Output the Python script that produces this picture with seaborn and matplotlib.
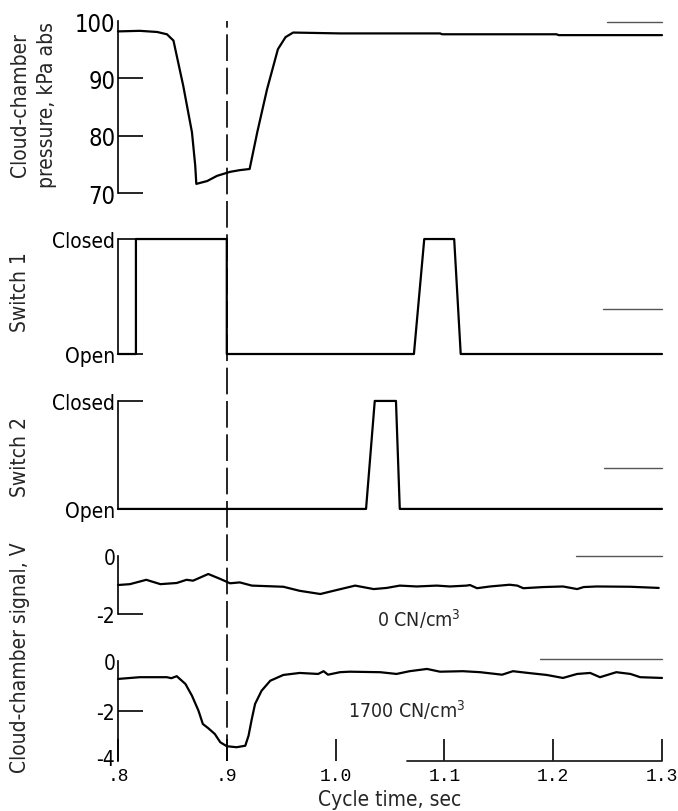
import matplotlib
matplotlib.use("Agg")
import matplotlib.pyplot as plt
import matplotlib.transforms as mtransforms
import seaborn as sns

# ---------------------------------------------------------------------------
# Data
# ---------------------------------------------------------------------------
X_MIN, X_MAX = 0.8, 1.3
X_TICKS = [0.8, 0.9, 1.0, 1.1, 1.2, 1.3]
X_TICK_LABELS = [".8", ".9", "1.0", "1.1", "1.2", "1.3"]
EVENT_TIME = 0.9

press_t = [0.800, 0.820, 0.836, 0.845, 0.851, 0.860, 0.868, 0.871, 0.872,
           0.882, 0.891, 0.903, 0.912, 0.921, 0.928, 0.937, 0.947, 0.954,
           0.961, 1.004, 1.096, 1.098, 1.203, 1.205, 1.300]
press_kpa = [98.2, 98.3, 98.1, 97.7, 96.6, 88.7, 80.6, 74.8, 71.6,
             72.1, 73.0, 73.7, 74.0, 74.2, 80.6, 88.1, 95.1, 97.2,
             98.0, 97.85, 97.85, 97.7, 97.7, 97.55, 97.55]

sw1_t = [0.800, 0.8165, 0.8165, 0.900, 0.900, 1.072, 1.0815, 1.109, 1.115, 1.300]
sw1_state = [0, 0, 1, 1, 0, 0, 1, 1, 0, 0]

sw2_t = [0.800, 1.028, 1.036, 1.0555, 1.059, 1.300]
sw2_state = [0, 0, 1, 1, 0, 0]

sig0_t = [0.800, 0.811, 0.826, 0.839, 0.854, 0.863, 0.869, 0.883, 0.894,
          0.903, 0.912, 0.923, 0.952, 0.967, 0.986, 0.998, 1.018, 1.035,
          1.047, 1.059, 1.0745, 1.093, 1.105, 1.1205, 1.1235, 1.130, 1.142,
          1.160, 1.167, 1.1725, 1.191, 1.209, 1.222, 1.228, 1.240, 1.271, 1.297]
sig0_v = [-1.00, -0.97, -0.82, -0.97, -0.93, -0.82, -0.85, -0.62, -0.79,
          -0.94, -0.91, -1.02, -1.06, -1.20, -1.31, -1.20, -1.02, -1.14,
          -1.10, -1.02, -1.05, -1.02, -1.05, -1.02, -1.00, -1.11, -1.05,
          -0.99, -1.02, -1.11, -1.07, -1.05, -1.14, -1.07, -1.05, -1.06, -1.10]

sig1700_t = [0.800, 0.820, 0.845, 0.849, 0.854, 0.862, 0.868, 0.874, 0.878,
             0.883, 0.889, 0.894, 0.900, 0.909, 0.917, 0.920, 0.923, 0.926,
             0.932, 0.940, 0.952, 0.967, 0.984, 0.989, 0.993, 1.004, 1.013,
             1.041, 1.056, 1.068, 1.084, 1.096, 1.117, 1.133, 1.153, 1.163,
             1.179, 1.194, 1.209, 1.222, 1.234, 1.243, 1.258, 1.271, 1.280, 1.300]
sig1700_v = [-0.72, -0.65, -0.65, -0.69, -0.61, -0.92, -1.39, -1.99, -2.52,
             -2.69, -2.92, -3.25, -3.41, -3.45, -3.39, -2.99, -2.32, -1.72,
             -1.19, -0.79, -0.56, -0.48, -0.52, -0.41, -0.55, -0.45, -0.43,
             -0.45, -0.52, -0.41, -0.32, -0.43, -0.41, -0.45, -0.55, -0.41,
             -0.49, -0.56, -0.68, -0.52, -0.48, -0.65, -0.45, -0.52, -0.65, -0.68]

# short reference traces at the right of each channel: (t_start, t_end, level)
ref_press = (1.249, 1.300, 99.8)
ref_sw1 = (1.246, 1.300, 0.39)
ref_sw2 = (1.247, 1.300, 0.38)
ref_sig0 = (1.221, 1.300, 0.0)
ref_sig1700 = (1.188, 1.300, 0.08)
ref_base = (1.066, 1.300, -4.0)

NARROW = ["Liberation Sans Narrow", "DejaVu Sans"]
MONO = ["Liberation Mono", "DejaVu Sans Mono"]

sns.set_theme(style="white")
plt.rcParams["font.family"] = NARROW
plt.rcParams["font.stretch"] = "condensed"
plt.rcParams["axes.unicode_minus"] = False
plt.rcParams["mathtext.fontset"] = "custom"
plt.rcParams["mathtext.rm"] = "DejaVu Sans:stretch=condensed"

fig = plt.figure(figsize=(6.78, 8.12), dpi=100)
L, W = 0.174, 0.8024
ax1 = fig.add_axes([L, 0.761, W, 0.2118])
ax2 = fig.add_axes([L, 0.5628, W, 0.1416])
ax3 = fig.add_axes([L, 0.372, W, 0.133])
ax4 = fig.add_axes([L, 0.2426, W, 0.0714])
ax5 = fig.add_axes([L, 0.0616, W, 0.1232])
axes = [ax1, ax2, ax3, ax4, ax5]

LW = 1.6
traces = [(ax1, press_t, press_kpa), (ax2, sw1_t, sw1_state), (ax3, sw2_t, sw2_state),
          (ax4, sig0_t, sig0_v), (ax5, sig1700_t, sig1700_v)]
for ax, t, v in traces:
    sns.lineplot(x=t, y=v, ax=ax, estimator=None, sort=False, color="black", lw=LW)
    ax.lines[-1].set_clip_on(False)

refs = [(ax1, ref_press), (ax2, ref_sw1), (ax3, ref_sw2), (ax4, ref_sig0),
        (ax5, ref_sig1700)]
for ax, (t0, t1, lev) in refs:
    ax.plot([t0, t1], [lev, lev], color="#555555", lw=1.0, clip_on=False)
ax5.plot([ref_base[0], ref_base[1]], [ref_base[2], ref_base[2]], color="#222222",
         lw=1.3, clip_on=False)

ylims = [(70, 100), (0, 1), (0, 1), (-2, 0), (-4, 0)]
for ax, lim in zip(axes, ylims):
    ax.set_xlim(X_MIN, X_MAX)
    ax.set_ylim(*lim)
    ax.set_facecolor("none")
    for s in ["top", "right", "bottom"]:
        ax.spines[s].set_visible(False)
    ax.spines["left"].set_color("black")
    ax.spines["left"].set_linewidth(1.2)
    ax.tick_params(axis="y", direction="in", length=18, width=1.2, pad=2,
                   left=True, colors="black")
    ax.set_xlabel("")
    ax.set_ylabel("")
    if ax is not ax5:
        ax.tick_params(axis="x", bottom=False, labelbottom=False)

ax1.set_yticks([70, 80, 90, 100])
ax1.tick_params(axis="y", labelsize=17)
ax1.yaxis.get_major_ticks()[-1].tick1line.set_visible(False)

for ax in (ax2, ax3):
    ax.set_yticks([0, 1], ["Open", "Closed"])
    ax.tick_params(axis="y", labelsize=15)

ax4.set_yticks([-2, 0])
ax4.tick_params(axis="y", labelsize=15)
ax4.yaxis.get_major_ticks()[-1].tick1line.set_visible(False)

ax5.set_yticks([-4, -2, 0])
ax5.tick_params(axis="y", labelsize=15)
ax5.yaxis.get_major_ticks()[0].tick1line.set_visible(False)
ax5.yaxis.get_major_ticks()[-1].tick1line.set_visible(False)
# lift the "-4" label a little so it clears the ".8" below it
lbl_m4 = ax5.get_yticklabels()[0]
lbl_m4.set_transform(lbl_m4.get_transform()
                     + mtransforms.ScaledTranslation(0, 4 / 100, fig.dpi_scale_trans))

ax5.set_xticks(X_TICKS, X_TICK_LABELS)
ax5.tick_params(axis="x", direction="in", length=16, width=1.2, pad=4,
                bottom=True, labelsize=13, colors="black")
for lbl in ax5.get_xticklabels():
    lbl.set_fontfamily(MONO)
    lbl.set_fontstretch("normal")

ax4.text(1.038, -2.14, "0 CN/cm$^{3}$", fontsize=14, ha="left", va="center")
ax5.text(1.011, -1.92, "1700 CN/cm$^{3}$", fontsize=14, ha="left", va="center")

# dashed marker through every channel
over = fig.add_axes([L, 0.0616, W, 0.9728 - 0.0616])
over.set_xlim(X_MIN, X_MAX)
over.axis("off")
over.axvline(EVENT_TIME, color="black", lw=1.2, ls=(0, (16, 4)))

fig.text(33.5 / 678, 1 - 105 / 812, "Cloud-chamber\npressure, kPa abs", rotation=90,
         ha="center", va="center", fontsize=15, linespacing=1.4, multialignment="center")
fig.text(20 / 678, 1 - 292 / 812, "Switch 1", rotation=90, ha="center", va="center",
         fontsize=15)
fig.text(20 / 678, 1 - 457 / 812, "Switch 2", rotation=90, ha="center", va="center",
         fontsize=15)
fig.text(20 / 678, 1 - 658 / 812, "Cloud-chamber signal, V", rotation=90,
         ha="center", va="center", fontsize=15)
fig.text(390 / 678, 1 - 800 / 812, "Cycle time, sec", ha="center", va="center",
         fontsize=15)

fig.savefig("out.png", dpi=100)
